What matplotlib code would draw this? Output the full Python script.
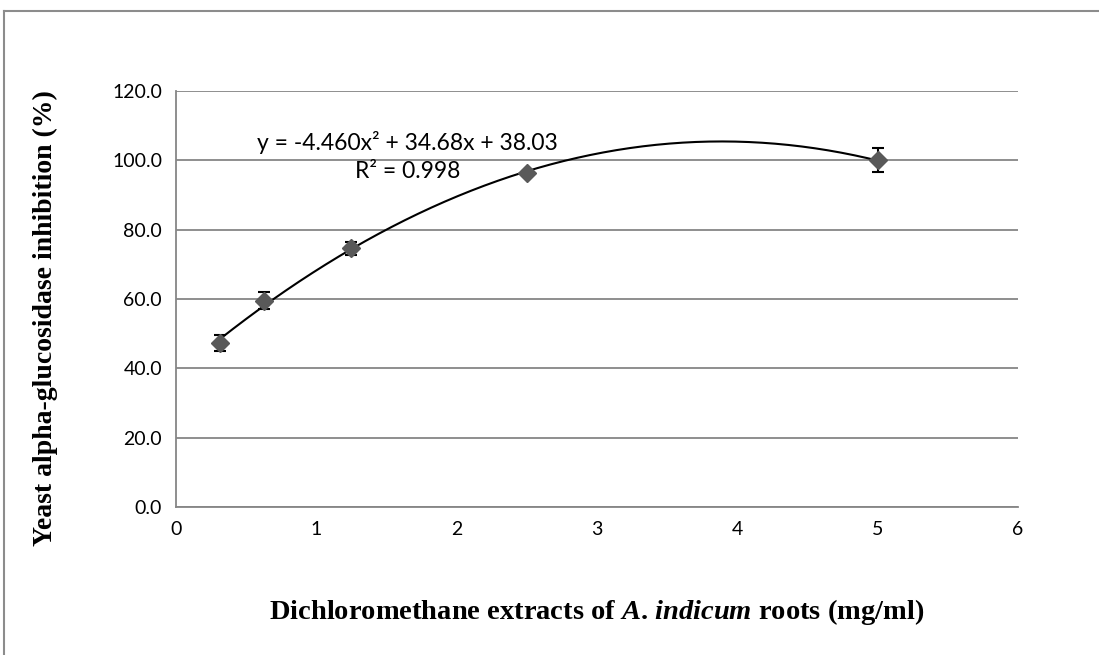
import numpy as np
import matplotlib.pyplot as plt
from matplotlib.lines import Line2D

# Data
conc = [0.3125, 0.625, 1.25, 2.5, 5.0]
inhibition = [47.3, 59.5, 74.6, 96.3, 100.1]
sd = [2.3, 2.5, 1.8, 0.6, 3.5]

# Polynomial trendline as printed on the chart
coef = [-4.460, 34.68, 38.03]
yticks = [0, 20, 40, 60, 80, 100, 120]
xticks = [0, 1, 2, 3, 4, 5, 6]

plt.rcParams['mathtext.fontset'] = 'custom'
plt.rcParams['mathtext.it'] = 'Liberation Serif:italic:bold'
plt.rcParams['mathtext.rm'] = 'Liberation Serif:bold'

W, H = 1099, 655
fig = plt.figure(figsize=(W / 100, H / 100), dpi=100)
ax = fig.add_axes([176 / W, 1 - 507 / H, (1018 - 176) / W, (507 - 91) / H])

grid_c = '#868686'
tick_font = 'Lato'

xs = np.linspace(conc[0], conc[-1], 200)
ax.plot(xs, np.polyval(coef, xs), color='black', lw=1.5, zorder=3)
ax.errorbar(conc, inhibition, yerr=sd, fmt='D', color='#595959', ms=9,
            ecolor='black', elinewidth=1.5, capsize=4, capthick=1.5, zorder=4)

ax.set_xlim(0, 6)
ax.set_ylim(0, 120)
ax.set_xticks(xticks)
ax.set_yticks(yticks)
ax.set_yticklabels([f'{v:.1f}' for v in yticks])
ax.tick_params(length=0, labelsize=14, pad=10)
for lab in ax.get_xticklabels() + ax.get_yticklabels():
    lab.set_fontfamily(tick_font)
ax.yaxis.grid(True, color=grid_c, lw=1.3)
ax.set_axisbelow(True)
for s in ['top', 'right']:
    ax.spines[s].set_visible(False)
for s in ['left', 'bottom']:
    ax.spines[s].set_color(grid_c)
    ax.spines[s].set_linewidth(1.3)

ax.set_xlabel('Dichloromethane extracts of $\\mathit{A}$. $\\mathit{indicum}$ roots (mg/ml)',
              fontsize=20.5, fontweight='bold', family='Liberation Serif', va='center')
ax.xaxis.set_label_coords(0.499, -0.252)
ax.set_ylabel('Yeast alpha-glucosidase inhibition (%)',
              fontsize=20, fontweight='bold', family='Liberation Serif', va='center')
ax.yaxis.set_label_coords(-0.155, 0.454)

ax.text(407 / W, 1 - 143 / H, 'y = -4.460x² + 34.68x + 38.03', transform=fig.transFigure,
        ha='center', va='center', fontsize=16.5, family=tick_font)
ax.text(408 / W, 1 - 171 / H, 'R² = 0.998', transform=fig.transFigure,
        ha='center', va='center', fontsize=16.5, family=tick_font)

# outer chart frame
fig.add_artist(Line2D([4 / W, 1], [1 - 11 / H, 1 - 11 / H], transform=fig.transFigure, color='#8c8c8c', lw=1.5))
fig.add_artist(Line2D([4 / W, 4 / W], [0, 1 - 11 / H], transform=fig.transFigure, color='#8c8c8c', lw=1.5))

fig.savefig('out.png', dpi=100)
